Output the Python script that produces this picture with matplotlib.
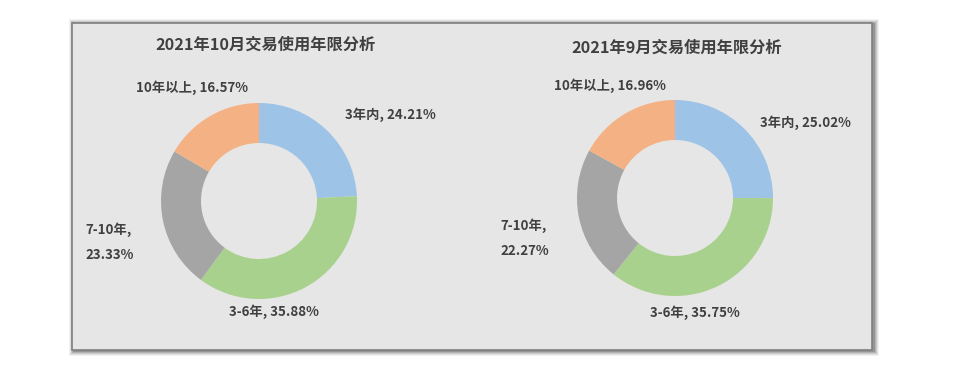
import matplotlib.pyplot as plt
from matplotlib.patches import Rectangle

plt.rcParams['font.family'] = ['Noto Sans CJK SC', 'DejaVu Sans']

categories = ['3年内', '3-6年', '7-10年', '10年以上']
oct_values = [24.21, 35.88, 23.33, 16.57]
sep_values = [25.02, 35.75, 22.27, 16.96]
colors = ['#9dc3e6', '#a9d18e', '#a5a5a5', '#f4b183']

W, H = 960, 368
fig = plt.figure(figsize=(9.6, 3.68), dpi=100, facecolor='white')
ax = fig.add_axes([0, 0, 1, 1])
ax.set_xlim(0, W)
ax.set_ylim(0, H)
ax.set_aspect('equal')
ax.axis('off')

def Y(y):
    return H - y

# soft shadow behind the panel
for i, a in enumerate([0.05, 0.07, 0.09, 0.12, 0.16]):
    off = 5 - i
    ax.add_patch(Rectangle((72 - off + 2, Y(350) - off - 1), 800 + 2 * off, 327 + 2 * off,
                           facecolor='#000000', alpha=a, edgecolor='none', zorder=1))
ax.add_patch(Rectangle((72, Y(350)), 800, 327, facecolor='#e7e6e6',
                       edgecolor='#7f7f7f', linewidth=1.2, zorder=2))

txt = '#404040'

def donut(cx, cy, vals, title, tpos, labels):
    wedges, _ = ax.pie(vals, colors=colors, startangle=90, counterclock=False,
                       radius=98, center=(cx, Y(cy)), frame=True,
                       wedgeprops=dict(width=40, edgecolor='none'))
    for w in wedges:
        w.set_zorder(3)
    ax.text(tpos[0], Y(tpos[1]), title, ha='center', va='center',
            fontsize=11.7, fontweight='bold', color=txt, zorder=5)
    for s, (x, y, ha) in labels:
        ax.text(x, Y(y), s, ha=ha, va='center', fontsize=9.6,
                fontweight='bold', color=txt, zorder=5, linespacing=2.0)

donut(259, 201, oct_values, '2021年10月交易使用年限分析', (266, 45), [
    (f'{categories[3]}, {oct_values[3]:.2f}%', (192, 88, 'center')),
    (f'{categories[0]}, {oct_values[0]:.2f}%', (390, 115, 'center')),
    (f'{categories[2]},\n{oct_values[2]:.2f}%', (85, 242, 'left')),
    (f'{categories[1]}, {oct_values[1]:.2f}%', (274, 312, 'center')),
])

donut(675, 198, sep_values, '2021年9月交易使用年限分析', (677, 48), [
    (f'{categories[3]}, {sep_values[3]:.2f}%', (610, 86, 'center')),
    (f'{categories[0]}, {sep_values[0]:.2f}%', (805, 123, 'center')),
    (f'{categories[2]},\n{sep_values[2]:.2f}%', (500, 238, 'left')),
    (f'{categories[1]}, {sep_values[1]:.2f}%', (695, 313, 'center')),
])

ax.set_xlim(0, W)
ax.set_ylim(0, H)
ax.axis('off')
fig.savefig('out.png', dpi=100, facecolor='white')
